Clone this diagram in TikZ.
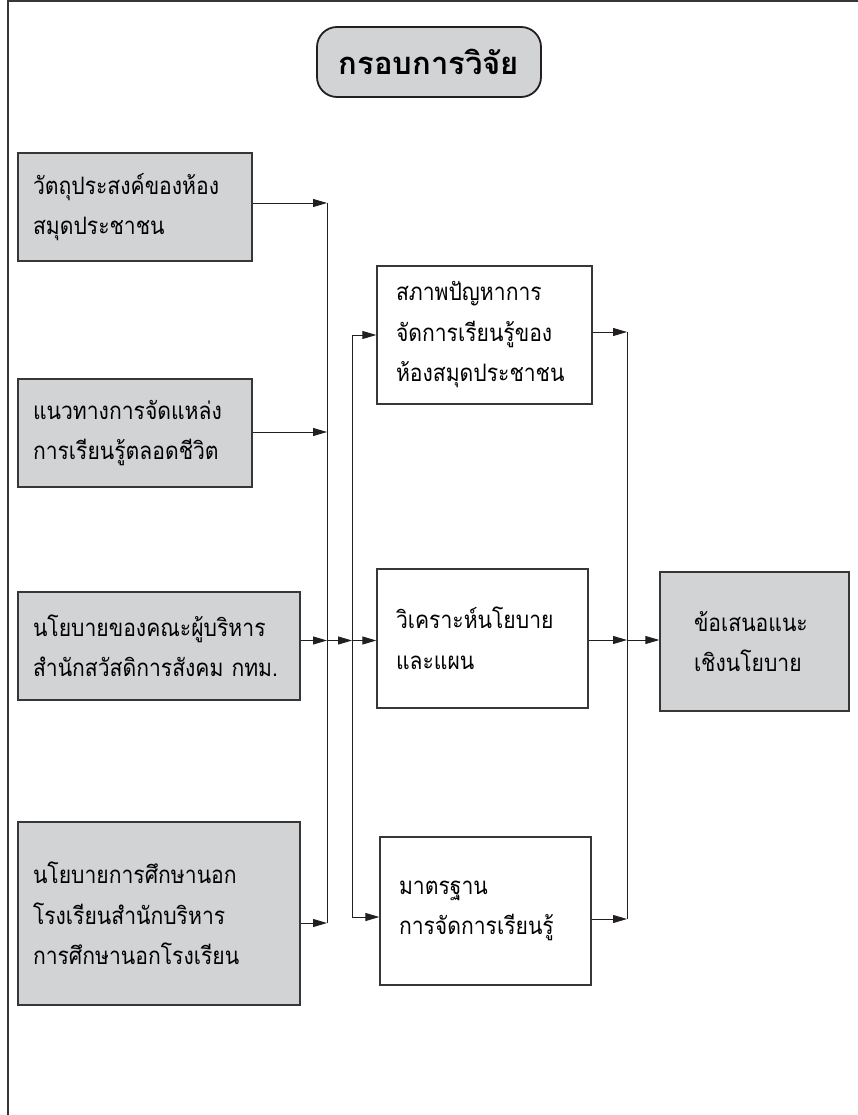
\documentclass[tikz,border=0pt]{standalone}
\usepackage{fontspec}
\newfontfamily\thaifont[Script=Thai]{Loma}
\newfontfamily\thainarrow[Script=Thai, FakeStretch=0.88]{Loma}
\usetikzlibrary{arrows.meta}

\definecolor{boxgray}{RGB}{209,211,212}
\definecolor{inkblack}{RGB}{35,31,32}
\definecolor{edgegray}{RGB}{55,55,55}

\tikzset{
  srcbox/.style={rectangle, draw=edgegray, line width=1.3pt, fill=boxgray,
    align=left, inner xsep=15pt, inner ysep=0pt,
    font=\thainarrow\fontsize{24}{40.5}\selectfont},
  midbox/.style={srcbox, fill=white, inner xsep=19pt},
  titlebox/.style={rectangle, rounded corners=20pt, draw=inkblack, line width=1.8pt,
    fill=boxgray, minimum width=224pt, minimum height=70pt,
    font=\thaifont\bfseries\fontsize{31}{36}\selectfont},
  wire/.style={draw=inkblack, line width=0.9pt},
  conn/.style={wire, -{Triangle[length=14pt,width=8pt]}}
}

\begin{document}
\begin{tikzpicture}[x=1pt,y=-1pt]
    \pgfmathsetmacro{\busa}{327}
    \pgfmathsetmacro{\busb}{352}
    \pgfmathsetmacro{\busc}{627}
    \useasboundingbox (0,0) rectangle (858,1115);
    % Draw the frame
    \draw [edgegray, line width=2pt] (858,1) -- (7.5,1) -- (7.5,1115);
    \node [titlebox] (frame) at (429,62) {กรอบการวิจัย};

    % Draw the source boxes
    \node [srcbox, text width=204pt, minimum height=108pt] (goal) at (135,207)
        {วัตถุประสงค์ของห้อง\\สมุดประชาชน};
    \node [srcbox, text width=204pt, minimum height=108pt] (guide) at (135,433)
        {แนวทางการจัดแหล่ง\\การเรียนรู้ตลอดชีวิต};
    \node [srcbox, text width=252pt, minimum height=108pt] (exec) at (159,646)
        {นโยบายของคณะผู้บริหาร\\สำนักสวัสดิการสังคม กทม.};
    \node [srcbox, text width=252pt, minimum height=183pt] (nfe) at (159,913.5)
        {นโยบายการศึกษานอก\\โรงเรียนสำนักบริหาร\\การศึกษานอกโรงเรียน};

    % Draw the analysis boxes
    \node [midbox, text width=177pt, minimum height=138pt] (state) at (484.5,335)
        {สภาพปัญหาการ\\จัดการเรียนรู้ของ\\ห้องสมุดประชาชน};
    \node [midbox, text width=173pt, minimum height=139pt] (policy) at (482.5,638.5)
        {วิเคราะห์นโยบาย\\และแผน};
    \node [midbox, text width=173pt, minimum height=148pt] (std) at (485.5,911)
        {มาตรฐาน\\การจัดการเรียนรู้};
    \node [srcbox, text width=121pt, inner xsep=34pt, minimum height=139pt] (advice) at (754.5,641.5)
        {ข้อเสนอแนะ\\เชิงนโยบาย};

    % Bus points
    \coordinate (a1) at (\busa,203);
    \coordinate (a2) at (\busa,432);
    \coordinate (a3) at (\busa,640.5);
    \coordinate (a4) at (\busa,923);
    \coordinate (b1) at (\busb,335);
    \coordinate (b2) at (\busb,640.5);
    \coordinate (b3) at (\busb,917);
    \coordinate (c1) at (\busc,332);
    \coordinate (c2) at (\busc,640);
    \coordinate (c3) at (\busc,919);

    % Draw the connectors
    \draw [conn] (goal.east |- a1) -- (a1);
    \draw [conn] (guide.east |- a2) -- (a2);
    \draw [conn] (exec.east |- a3) -- (a3);
    \draw [conn] (nfe.east |- a4) -- (a4);
    \draw [wire] (a1) -- (a4);
    \draw [conn] (a3) -- (b2);

    \draw [wire] (b1) -- (b3);
    \draw [conn] (b1) -- (b1 -| state.west);
    \draw [conn] (b2) -- (b2 -| policy.west);
    \draw [conn] (b3) -- (b3 -| std.west);

    \draw [conn] (state.east |- c1) -- (c1);
    \draw [conn] (policy.east |- c2) -- (c2);
    \draw [conn] (std.east |- c3) -- (c3);
    \draw [wire] (c1) -- (c3);
    \draw [conn] (c2) -- (c2 -| advice.west);

\end{tikzpicture}
\end{document}
